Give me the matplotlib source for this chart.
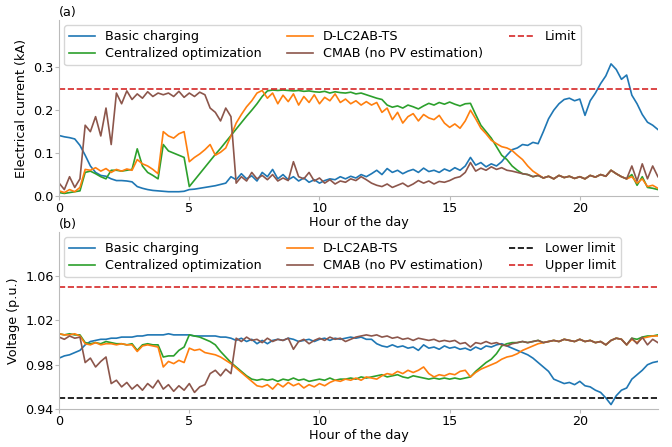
import numpy as np
import matplotlib
matplotlib.use("Agg")
import matplotlib.pyplot as plt

# sample every 0.2 h, 0 .. 23 h
hours = np.linspace(0, 23, 116)

# ---- (a) electrical current (kA) ----
cur_basic = [
    0.141, 0.138, 0.136, 0.133, 0.118,
    0.095, 0.070, 0.055, 0.048, 0.046,
    0.040, 0.036, 0.036, 0.035, 0.033,
    0.022, 0.018, 0.015, 0.013, 0.012,
    0.011, 0.010, 0.010, 0.010, 0.011,
    0.015, 0.016, 0.018, 0.020, 0.022,
    0.024, 0.027, 0.030, 0.045, 0.038,
    0.052, 0.040, 0.047, 0.035, 0.055,
    0.045, 0.062, 0.040, 0.050, 0.038,
    0.045, 0.035, 0.042, 0.032, 0.038,
    0.030, 0.036, 0.040, 0.038, 0.045,
    0.040, 0.046, 0.042, 0.050, 0.045,
    0.052, 0.060, 0.050, 0.064, 0.055,
    0.060, 0.052, 0.058, 0.062, 0.055,
    0.065, 0.057, 0.060, 0.055, 0.063,
    0.058, 0.066, 0.060, 0.070, 0.090,
    0.072, 0.078, 0.068, 0.075, 0.070,
    0.080, 0.095, 0.108, 0.112, 0.120,
    0.118, 0.125, 0.122, 0.150, 0.180,
    0.200, 0.215, 0.225, 0.228, 0.222,
    0.226, 0.188, 0.222, 0.240, 0.262,
    0.280, 0.308, 0.295, 0.272, 0.282,
    0.235, 0.215, 0.190, 0.172, 0.165,
    0.155,
]
cur_central = [
    0.008, 0.006, 0.008, 0.010, 0.012,
    0.055, 0.058, 0.052, 0.045, 0.040,
    0.060, 0.060, 0.058, 0.060, 0.062,
    0.110, 0.070, 0.055, 0.048, 0.040,
    0.120, 0.105, 0.100, 0.095, 0.090,
    0.022, 0.037, 0.052, 0.067, 0.082,
    0.097, 0.111, 0.126, 0.141, 0.156,
    0.171, 0.186, 0.200, 0.215, 0.232,
    0.245, 0.247, 0.246, 0.247, 0.246,
    0.245, 0.246, 0.244, 0.245, 0.243,
    0.242, 0.244, 0.240, 0.243, 0.241,
    0.240, 0.242, 0.238, 0.240, 0.236,
    0.232, 0.228, 0.225, 0.212, 0.207,
    0.210, 0.205, 0.212, 0.208, 0.203,
    0.210, 0.216, 0.212, 0.218, 0.214,
    0.219, 0.214, 0.210, 0.215, 0.216,
    0.190, 0.165, 0.150, 0.135, 0.115,
    0.095, 0.085, 0.070, 0.060, 0.052,
    0.050, 0.045, 0.048, 0.042, 0.046,
    0.040, 0.048, 0.043, 0.046, 0.041,
    0.045, 0.040, 0.048, 0.044, 0.050,
    0.046, 0.060, 0.052, 0.045, 0.040,
    0.050, 0.025, 0.045, 0.020, 0.018,
    0.015,
]
cur_dlc = [
    0.012, 0.008, 0.015, 0.010, 0.020,
    0.062, 0.060, 0.066, 0.058, 0.064,
    0.055, 0.062, 0.058, 0.063, 0.060,
    0.085, 0.075, 0.070, 0.062, 0.052,
    0.150, 0.140, 0.135, 0.145, 0.150,
    0.080, 0.090, 0.098, 0.108, 0.120,
    0.095, 0.102, 0.112, 0.140, 0.170,
    0.190, 0.208, 0.222, 0.240, 0.246,
    0.228, 0.240, 0.215, 0.235, 0.220,
    0.238, 0.212, 0.232, 0.218, 0.236,
    0.215, 0.230, 0.222, 0.238, 0.218,
    0.226, 0.215, 0.222, 0.212, 0.220,
    0.212, 0.218, 0.195, 0.205, 0.178,
    0.195, 0.170, 0.185, 0.192, 0.175,
    0.190, 0.182, 0.178, 0.188, 0.170,
    0.160, 0.168, 0.158, 0.175, 0.200,
    0.180, 0.158, 0.145, 0.130, 0.122,
    0.115, 0.112, 0.106, 0.095, 0.085,
    0.070, 0.058, 0.050, 0.042, 0.046,
    0.040, 0.048, 0.043, 0.046, 0.041,
    0.045, 0.040, 0.048, 0.044, 0.050,
    0.046, 0.060, 0.052, 0.045, 0.040,
    0.045, 0.030, 0.040, 0.022, 0.025,
    0.018,
]
cur_cmab = [
    0.030, 0.015, 0.045, 0.020, 0.040,
    0.165, 0.150, 0.185, 0.140, 0.205,
    0.120, 0.240, 0.215, 0.245, 0.225,
    0.238, 0.228, 0.243, 0.232, 0.240,
    0.236, 0.240, 0.232, 0.244, 0.230,
    0.240, 0.232, 0.242, 0.236, 0.205,
    0.195, 0.175, 0.205, 0.185, 0.030,
    0.045, 0.035, 0.055, 0.040, 0.048,
    0.038, 0.050, 0.035, 0.042, 0.036,
    0.080, 0.045, 0.040, 0.055, 0.035,
    0.042, 0.030, 0.038, 0.028, 0.035,
    0.032, 0.040, 0.036, 0.045, 0.038,
    0.030, 0.025, 0.022, 0.028, 0.020,
    0.025, 0.030, 0.022, 0.028, 0.036,
    0.030, 0.035, 0.028, 0.034, 0.032,
    0.036, 0.042, 0.045, 0.055, 0.078,
    0.058, 0.065, 0.060, 0.068, 0.062,
    0.066, 0.060, 0.058, 0.055, 0.052,
    0.050, 0.045, 0.048, 0.042, 0.046,
    0.040, 0.048, 0.043, 0.046, 0.041,
    0.045, 0.040, 0.048, 0.044, 0.050,
    0.046, 0.060, 0.052, 0.045, 0.040,
    0.070, 0.035, 0.075, 0.040, 0.070,
    0.045,
]
current_limit = 0.25

# ---- (b) voltage (p.u.) ----
volt_basic = [
    0.986, 0.988, 0.989, 0.991, 0.993,
    0.998, 1.001, 1.002, 1.003, 1.003,
    1.004, 1.004, 1.005, 1.005, 1.005,
    1.006, 1.006, 1.007, 1.007, 1.007,
    1.007, 1.008, 1.007, 1.007, 1.007,
    1.007, 1.006, 1.006, 1.006, 1.006,
    1.006, 1.005, 1.005, 1.004, 1.002,
    1.004, 1.001, 1.003, 0.999, 1.002,
    0.999, 1.002, 1.003, 1.002, 1.004,
    1.003, 1.001, 1.002, 1.003, 1.001,
    1.003, 1.004, 1.002, 1.004, 1.003,
    1.004, 1.005, 1.004, 1.005, 1.003,
    1.003, 0.999, 0.997, 0.996, 0.998,
    0.996, 0.997, 0.995, 0.996, 0.993,
    0.998, 0.995, 0.996, 0.994, 0.997,
    0.995, 0.996, 0.994, 0.995, 0.993,
    0.996, 0.994, 0.997, 0.996, 0.998,
    0.999, 0.997, 0.995, 0.993, 0.991,
    0.989, 0.986, 0.982, 0.978, 0.974,
    0.967, 0.965, 0.963, 0.964, 0.962,
    0.965, 0.961, 0.960, 0.957, 0.955,
    0.950, 0.944, 0.952, 0.957, 0.959,
    0.967, 0.971, 0.975, 0.980, 0.982,
    0.983,
]
volt_central = [
    1.008, 1.007, 1.008, 1.007, 1.007,
    1.000, 0.999, 1.000, 0.999, 1.001,
    1.000, 0.999, 0.999, 0.998, 0.999,
    0.993, 0.998, 0.999, 0.998, 0.998,
    0.987, 0.988, 0.988, 0.993, 0.996,
    1.007, 1.006, 1.005, 1.003, 1.001,
    0.998, 0.992, 0.987, 0.982, 0.978,
    0.974, 0.970, 0.967, 0.966, 0.967,
    0.966, 0.967, 0.965, 0.967, 0.966,
    0.968, 0.966, 0.967, 0.965, 0.966,
    0.967, 0.966, 0.968, 0.966, 0.967,
    0.967, 0.968, 0.967, 0.969, 0.968,
    0.969, 0.970, 0.971, 0.969, 0.970,
    0.971, 0.969, 0.968, 0.970, 0.969,
    0.968, 0.967, 0.968, 0.967, 0.968,
    0.967, 0.968, 0.967, 0.968, 0.969,
    0.974, 0.978, 0.982, 0.985, 0.990,
    0.997, 0.999, 1.000, 1.000, 1.001,
    1.000, 1.001, 1.002, 1.000, 1.001,
    1.002, 1.001, 1.003, 1.002, 1.001,
    1.003, 1.001, 1.002, 1.000, 1.001,
    0.998, 1.002, 1.004, 1.003, 0.998,
    1.004, 1.003, 1.005, 1.006, 1.006,
    1.007,
]
volt_dlc = [
    1.008, 1.007, 1.007, 1.008, 1.006,
    0.999, 0.998, 1.000, 0.998, 0.999,
    0.999, 0.998, 0.999, 0.998, 0.998,
    0.992, 0.997, 0.998, 0.997, 0.996,
    0.978, 0.983, 0.981, 0.984, 0.982,
    0.995, 0.993, 0.994, 0.991, 0.990,
    0.989, 0.987, 0.984, 0.981, 0.977,
    0.973, 0.969, 0.965, 0.961, 0.960,
    0.962, 0.958, 0.963, 0.960, 0.964,
    0.961, 0.963, 0.959, 0.962, 0.960,
    0.963, 0.961, 0.964, 0.966, 0.965,
    0.967, 0.966, 0.968, 0.966, 0.969,
    0.968, 0.967, 0.970, 0.972, 0.971,
    0.974, 0.972, 0.975, 0.973, 0.975,
    0.978, 0.972, 0.969, 0.971, 0.970,
    0.972, 0.971, 0.974, 0.975, 0.969,
    0.973, 0.976, 0.978, 0.980, 0.982,
    0.985, 0.987, 0.988, 0.990, 0.993,
    0.995, 0.997, 0.999, 1.000, 1.001,
    1.002, 1.001, 1.003, 1.002, 1.001,
    1.003, 1.001, 1.002, 1.000, 1.001,
    0.998, 1.002, 1.004, 1.003, 0.998,
    1.003, 1.000, 1.004, 1.005, 1.006,
    1.006,
]
volt_cmab = [
    1.005, 1.003, 1.006, 1.004, 1.005,
    0.982, 0.986, 0.978, 0.983, 0.987,
    0.963, 0.966, 0.960, 0.964, 0.958,
    0.962, 0.957, 0.963, 0.959, 0.966,
    0.958, 0.962, 0.956, 0.961, 0.957,
    0.963, 0.955, 0.960, 0.962, 0.972,
    0.975, 0.970, 0.976, 0.972, 1.004,
    1.001, 1.005, 1.002, 1.003, 1.000,
    1.004, 1.001, 1.003, 1.002, 1.004,
    0.994, 1.001, 1.003, 0.999, 1.002,
    1.004, 1.002, 1.005, 1.003, 1.004,
    1.001, 1.003, 1.005, 1.006, 1.007,
    1.006, 1.007, 1.005, 1.006, 1.004,
    1.005, 1.003, 1.004, 1.002, 1.004,
    1.003, 1.002, 1.003, 1.001, 1.002,
    1.001, 1.002, 0.999, 1.000, 0.996,
    1.000, 0.999, 1.001, 0.999, 1.000,
    0.998, 0.997, 0.999, 1.000, 1.001,
    1.000, 1.001, 1.002, 1.000, 1.001,
    1.002, 1.001, 1.003, 1.002, 1.001,
    1.003, 1.001, 1.002, 1.000, 1.001,
    0.998, 1.002, 1.004, 1.003, 0.998,
    1.004, 0.999, 1.005, 0.998, 1.003,
    1.000,
]
volt_lower = 0.95
volt_upper = 1.05

plt.rcParams['font.family'] = 'DejaVu Sans'
plt.rcParams['font.size'] = 9.2

fig = plt.figure(figsize=(6.72, 4.47), dpi=100)
ax1 = fig.add_axes([0.088, 0.5615, 0.891, 0.3935])
ax2 = fig.add_axes([0.088, 0.085, 0.891, 0.396])

lw = 1.2
ax1.plot(hours, cur_basic, color='tab:blue', lw=lw, label='Basic charging')
ax1.plot(hours, cur_central, color='tab:green', lw=lw, label='Centralized optimization')
ax1.plot(hours, cur_dlc, color='tab:orange', lw=lw, label='D-LC2AB-TS')
ax1.plot(hours, cur_cmab, color='tab:brown', lw=lw, label='CMAB (no PV estimation)')
ax1.axhline(current_limit, color='tab:red', ls='--', lw=lw, label='Limit')
ax1.set_ylim(0, 0.41)
ax1.set_yticks([0.0, 0.1, 0.2, 0.3])
ax1.set_ylabel('Electrical current (kA)')
ax1.set_title('(a)', loc='left', pad=3, fontsize=9.2)

ax2.plot(hours, volt_basic, color='tab:blue', lw=lw, label='Basic charging')
ax2.plot(hours, volt_central, color='tab:green', lw=lw, label='Centralized optimization')
ax2.plot(hours, volt_dlc, color='tab:orange', lw=lw, label='D-LC2AB-TS')
ax2.plot(hours, volt_cmab, color='tab:brown', lw=lw, label='CMAB (no PV estimation)')
ax2.axhline(volt_lower, color='black', ls='--', lw=lw, label='Lower limit')
ax2.axhline(volt_upper, color='tab:red', ls='--', lw=lw, label='Upper limit')
ax2.set_ylim(0.94, 1.10)
ax2.set_yticks([0.94, 0.98, 1.02, 1.06])
ax2.set_ylabel('Voltage (p.u.)')
ax2.set_title('(b)', loc='left', pad=3, fontsize=9.2)

for ax in (ax1, ax2):
    ax.set_xlim(0, 23)
    ax.set_xticks([0, 5, 10, 15, 20])
    ax.set_xlabel('Hour of the day', labelpad=1)
    ax.spines['top'].set_visible(False)
    ax.spines['right'].set_visible(False)
    ax.spines['left'].set_color('#bbbbbb')
    ax.spines['bottom'].set_color('#bbbbbb')
    ax.tick_params(color='#bbbbbb', length=3, pad=1)
    ax.legend(loc='upper left', ncol=3, fontsize=9.2, borderaxespad=0.4,
              handlelength=2.0, labelspacing=0.3, columnspacing=2.0)

fig.savefig('out.png', dpi=100)
